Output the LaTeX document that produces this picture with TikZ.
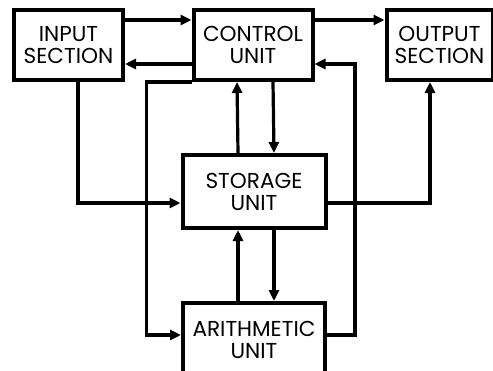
\documentclass[tikz,border=0pt]{standalone}
\usepackage{fontspec}
\setmainfont{Poppins}
\usetikzlibrary{arrows.meta,calc}

\begin{document}
\begin{tikzpicture}[x=0.5pt,y=-0.5pt,
    font=\fontsize{10.8}{11}\selectfont,
    unit/.style={draw,line width=2pt,align=center,inner sep=0pt,
      minimum height=35pt},
    flow/.style={line width=1.6pt,-{Triangle[length=5.5pt,width=5pt]}},
    wire/.style={line width=1.6pt}]
    \useasboundingbox (0,0) rectangle (493,370);
    \clip (0,0) rectangle (493,370);

    % the five units
    \node[unit,minimum width=54.5pt] (input)   at (68.5,45) {INPUT\\SECTION};
    \node[unit,minimum width=59.5pt] (control) at (253,45)  {CONTROL\\UNIT};
    \node[unit,minimum width=53pt]   (output)  at (439.5,45) {OUTPUT\\SECTION};
    \node[unit,minimum width=71.5pt,minimum height=36.5pt] (storage) at (254,191.5) {STORAGE\\UNIT};
    \node[unit,minimum width=71pt,minimum height=37pt]     (arith)   at (254,340)  {ARITHMETIC\\UNIT};

    % top row
    \draw[flow] ([yshift=-6pt]input.north east) -- ([yshift=-6pt]control.north west);
    \draw[flow] ([yshift=9pt]control.south west) -- ([yshift=9pt]input.south east);
    \draw[flow] ([yshift=-6pt]control.north east) -- ([yshift=-6pt]output.north west);

    % middle column, both ways
    \foreach \a/\b in {control/storage,storage/arith} {
      \draw[flow] ([xshift=-8pt]\b.north) -- ([xshift=-8pt]\a.south);
      \draw[flow] ([xshift=10pt]\a.south) -- ([xshift=10pt]\b.north);
    }

    % side loops
    \draw[flow] ([xshift=4.75pt]input.south) |- ([yshift=-5.75pt]storage.west);
    \draw[flow] (control.south west) -- ++(-22.5pt,0) |- ([yshift=2.5pt]arith.west);
    \draw[flow] ([yshift=2.5pt]arith.east) -- ++(14pt,0) |- ([yshift=9pt]control.south east);
    \draw[flow] ([yshift=-5.75pt]storage.east) -| ([xshift=-4.75pt]output.south);
  \end{tikzpicture}
\end{document}
